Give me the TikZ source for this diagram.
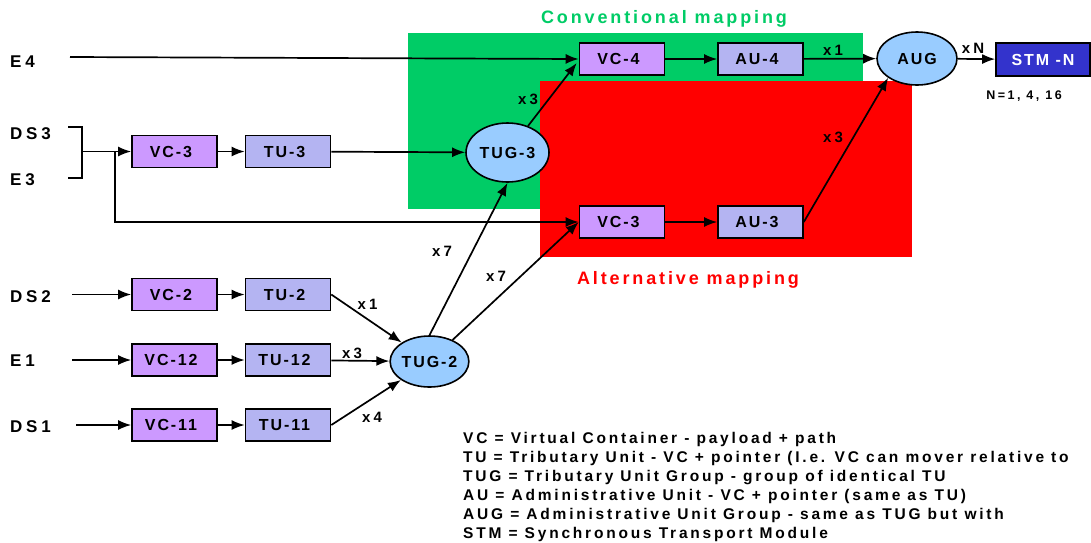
\documentclass[tikz,border=0pt]{standalone}
\usepackage{fontspec}
\setmainfont{Liberation Sans}
\newfontfamily\fboxtxt[LetterSpace=12]{Liberation Sans}
\newfontfamily\fsrc[LetterSpace=22]{Liberation Sans}
\newfontfamily\fmult[LetterSpace=20]{Liberation Sans}
\newfontfamily\ftitle[LetterSpace=16]{Liberation Sans}
\newfontfamily\flegend[LetterSpace=18]{Liberation Sans}
\usetikzlibrary{shapes.geometric,arrows.meta}
\definecolor{mapgreen}{RGB}{0,204,102}
\definecolor{mapred}{RGB}{255,0,0}
\definecolor{vcfill}{RGB}{204,153,255}
\definecolor{tufill}{RGB}{180,180,242}
\definecolor{tugfill}{RGB}{153,204,255}
\definecolor{stmfill}{RGB}{51,51,204}
\tikzset{
  vcbox/.style={draw, line width=1.6pt, fill=vcfill, minimum width=85pt, minimum height=32pt,
    inner sep=0pt, font=\fboxtxt\bfseries\fontsize{16}{19}\selectfont,
    execute at end node={\kern7pt}},
  tubox/.style={vcbox, fill=tufill},
  grp/.style={ellipse, draw, line width=1.6pt, fill=tugfill, inner sep=0pt,
    font=\fboxtxt\bfseries\fontsize{16}{19}\selectfont},
  src/.style={anchor=west, inner sep=0pt, font=\fsrc\bfseries\fontsize{17}{20}\selectfont},
  mult/.style={inner sep=0pt, font=\fmult\bfseries\fontsize{15}{18}\selectfont},
  title/.style={inner sep=0pt, font=\ftitle\bfseries\fontsize{18}{21}\selectfont},
  conn/.style={line width=1.7pt, -{Latex[length=13pt,width=10pt]}},
  plain/.style={line width=1.7pt}
}
\begin{document}
\begin{tikzpicture}[x=1pt,y=-1pt]
\useasboundingbox (0,0) rectangle (1091,542);

% mapping regions
\fill[mapgreen] (408,33) rectangle (863,209);
\fill[mapred] (540,81) rectangle (912,257);
\node[title, text=mapgreen] (convtitle) at (664,19) {Conventional mapping};
\node[title, text=mapred] (alttitle) at (688,280) {Alternative mapping};

% source signals
\node[src] (e4) at (10,62) {E4};
\node[src] (ds3) at (10,134) {DS3};
\node[src] (e3) at (10,180) {E3};
\node[src] (ds2) at (10,297) {DS2};
\node[src] (e1) at (10,361) {E1};
\node[src] (ds1) at (10,427) {DS1};

% conventional path
\node[vcbox] (vc4) at (622,59) {VC-4};
\node[tubox] (au4) at (760.5,59) {AU-4};
\node[grp, minimum width=80pt, minimum height=53pt] (aug) at (917,58.5) {AUG};
\node[draw, line width=1.6pt, fill=stmfill, text=white, minimum width=94pt, minimum height=33pt,
  inner sep=0pt, font=\fboxtxt\bfseries\fontsize{16}{19}\selectfont] (stm) at (1043,59.5) {STM -N};
\node[inner sep=0pt, font=\fmult\bfseries\fontsize{12.5}{15}\selectfont] (nvals) at (1024,96) {N=1, 4, 16};

% DS3/E3 branch
\node[vcbox] (vc3a) at (174.5,151.5) {VC-3};
\node[tubox] (tu3) at (288,151.5) {TU-3};
\node[grp, minimum width=83pt, minimum height=59pt] (tug3) at (507.5,152.5) {TUG-3};
\node[vcbox] (vc3b) at (622,222) {VC-3};
\node[tubox] (au3) at (760.5,222) {AU-3};

% low-order tributaries
\node[vcbox] (vc2) at (174.5,294.5) {VC-2};
\node[tubox] (tu2) at (288,294.5) {TU-2};
\node[vcbox] (vc12) at (174.5,360) {VC-12};
\node[tubox] (tu12) at (288,360) {TU-12};
\node[vcbox] (vc11) at (174.5,425) {VC-11};
\node[tubox] (tu11) at (288,425) {TU-11};
\node[grp, minimum width=77pt, minimum height=51pt] (tug2) at (429.5,361.5) {TUG-2};

% input points
\coordinate (e4in) at (70,57);
\coordinate (ds2in) at (72,294.5);
\coordinate (e1in) at (72,360);
\coordinate (ds1in) at (76,425);
\coordinate (bk1) at (68,127);
\coordinate (bk2) at (82,127);
\coordinate (bk3) at (82,178);
\coordinate (bk4) at (68,178);
\coordinate (bkmid) at (82,151.5);
\coordinate (split) at (115,151.5);

% bracket joining DS3 and E3
\draw[plain] (bk1) -- (bk2) -- (bk3) -- (bk4);

% connectors
\draw[conn] (e4in) -- (vc4.west);
\draw[conn] (vc4) -- (au4);
\draw[conn] (au4) -- (aug);
\draw[conn] (aug) -- (stm);
\draw[conn] (bkmid) -- (vc3a);
\draw[conn] (split) |- (vc3b.west);
\draw[conn] (vc3a) -- (tu3);
\draw[conn] (tu3) -- (tug3);
\draw[conn] (tug3) -- ([xshift=-2pt,yshift=-4pt]vc4.west);
\draw[conn] (vc3b) -- (au3);
\draw[conn] (au3.east) -- (aug.south west);
\draw[conn] (tug2.north) -- (tug3.south);
\draw[conn] (tug2) -- (vc3b.west);
\draw[conn] (ds2in) -- (vc2);
\draw[conn] (vc2) -- (tu2);
\draw[conn] (tu2.east) -- (tug2);
\draw[conn] (e1in) -- (vc12);
\draw[conn] (vc12) -- (tu12);
\draw[conn] (tu12) -- (tug2);
\draw[conn] (ds1in) -- (vc11);
\draw[conn] (vc11) -- (tu11);
\draw[conn] (tu11.east) -- (tug2);

% multiplicities
\node[mult] (m1) at (528,99) {x3};
\node[mult] (m2) at (833,50) {x1};
\node[mult] (m3) at (973,48) {xN};
\node[mult] (m4) at (833,137) {x3};
\node[mult] (m5) at (442,251) {x7};
\node[mult] (m6) at (496,276) {x7};
\node[mult] (m7) at (367.5,304) {x1};
\node[mult] (m8) at (352,353) {x3};
\node[mult] (m9) at (372,417) {x4};

% abbreviations
\node[anchor=north west, align=left, inner sep=0pt,
  font=\flegend\bfseries\fontsize{15.5}{19}\selectfont] (legend) at (463,432)
 {VC = Virtual Container - payload + path\\
  TU = Tributary Unit - VC + pointer (I.e. VC can mover relative to\\
  TUG = Tributary Unit Group - group of identical TU\\
  AU = Administrative Unit - VC + pointer (same as TU)\\
  AUG = Administrative Unit Group - same as TUG but with\\
  STM = Synchronous Transport Module};
\end{tikzpicture}
\end{document}
